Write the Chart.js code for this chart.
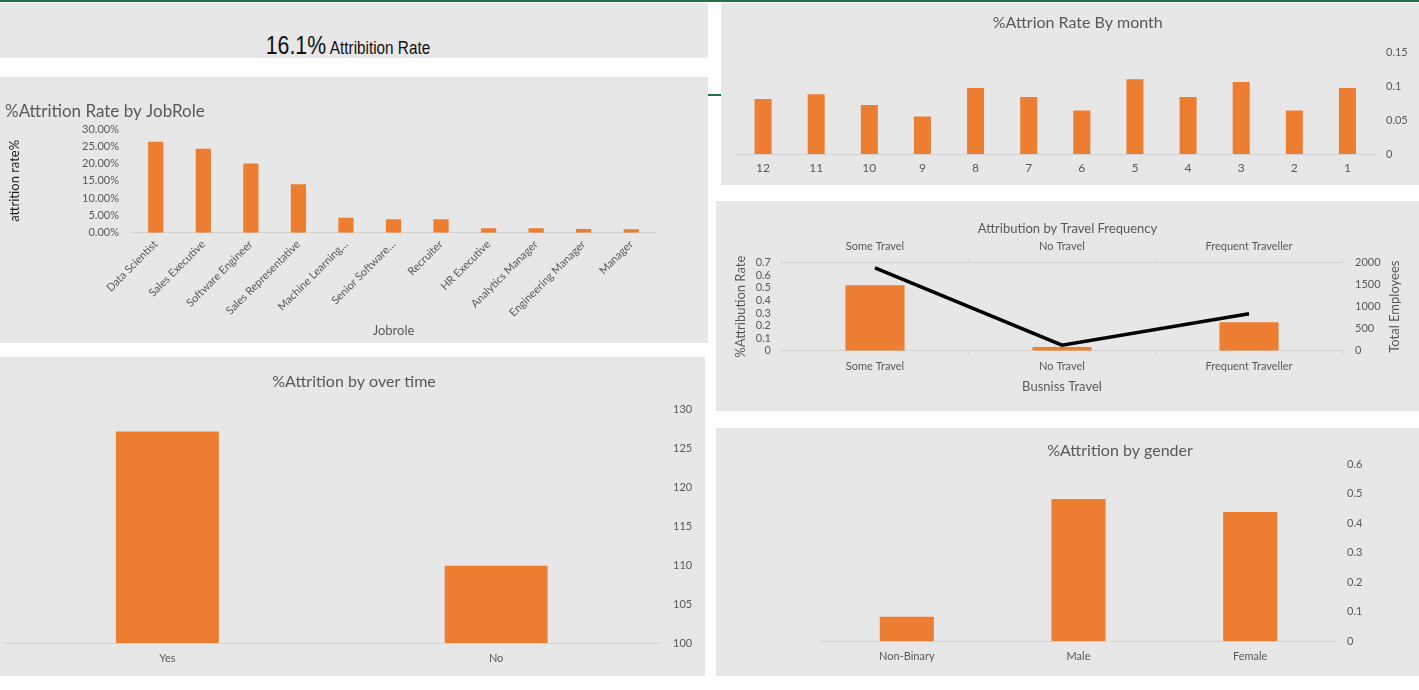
<!DOCTYPE html>
<html>
<head>
<meta charset="utf-8">
<title>Attrition Dashboard</title>
<script src="https://cdn.jsdelivr.net/npm/chart.js@4.4.1/dist/chart.umd.min.js"></script>
<style>
  html, body { margin: 0; padding: 0; background: #ffffff; }
  body { width: 1419px; height: 690px; position: relative; overflow: hidden; font-family: Lato, sans-serif; }
  .panel { position: absolute; background: #e7e7e7; box-sizing: border-box; }
  .topline { position: absolute; left: 0; top: 0; width: 1419px; height: 2px; background: #217346; }
  .tick-mark { position: absolute; left: 708px; top: 94px; width: 14px; height: 2px; background: #217346; }
  .kpi { color: #111; font-family: "Liberation Sans Narrow", "Arial Narrow", "Liberation Sans", sans-serif; }
  .kpi .line { position: absolute; left: 0; right: 12px; top: 28px; text-align: center; transform: scaleX(0.85); }
  .kpi .big { font-size: 25px; }
  .kpi .small { font-size: 18px; }
</style>
</head>
<body>
<div class="topline"></div>
<div class="tick-mark"></div>

<div class="panel kpi" style="left:0;top:3px;width:708px;height:55px;">
  <div class="line"><span class="big">16.1%</span> <span class="small">Attribition Rate</span></div>
</div>

<div class="panel" style="left:0;top:77px;width:708px;height:266px;"><canvas id="jobRoleChart"></canvas></div>
<div class="panel" style="left:0;top:357px;width:705px;height:319px;"><canvas id="overtimeChart"></canvas></div>
<div class="panel" style="left:721px;top:3px;width:698px;height:182px;"><canvas id="monthChart"></canvas></div>
<div class="panel" style="left:716px;top:201px;width:703px;height:210px;"><canvas id="travelChart"></canvas></div>
<div class="panel" style="left:716px;top:428px;width:703px;height:248px;"><canvas id="genderChart"></canvas></div>

<script>
const jobRoles = ['Data Scientist', 'Sales Executive', 'Software Engineer', 'Sales Representative', 'Machine Learning…', 'Senior Software…', 'Recruiter', 'HR Executive', 'Analytics Manager', 'Engineering Manager', 'Manager'];
const jobRoleRates = [0.263, 0.243, 0.200, 0.140, 0.043, 0.039, 0.039, 0.013, 0.013, 0.011, 0.010];

const months = ['12', '11', '10', '9', '8', '7', '6', '5', '4', '3', '2', '1'];
const monthRates = [0.081, 0.088, 0.072, 0.055, 0.097, 0.084, 0.064, 0.110, 0.084, 0.106, 0.064, 0.097];

const travelTypes = ['Some Travel', 'No Travel', 'Frequent Traveller'];
const travelRates = [0.52, 0.03, 0.226];
const travelEmployees = [1880, 125, 840];

const overtimeLabels = ['Yes', 'No'];
const overtimeValues = [127.1, 109.9];

const genders = ['Non-Binary', 'Male', 'Female'];
const genderRates = [0.082, 0.481, 0.437];

const ORANGE = '#ED7D31';
const AXIS = '#d4d4d4';
const TEXT = '#595959';

Chart.defaults.font.family = 'Lato, sans-serif';
Chart.defaults.color = TEXT;
Chart.defaults.animation = false;
Chart.defaults.responsive = true;
Chart.defaults.maintainAspectRatio = false;
Chart.defaults.plugins.legend.display = false;
Chart.defaults.plugins.tooltip.enabled = false;

// force axis box sizes so the plot areas land where the reference has them
function fixWidth(w) { return function (scale) { scale.width = w; }; }
function fixHeight(h) { return function (scale) { scale.height = h; }; }

function chartTitle(text, size, top, bottom, align) {
  return {
    display: true,
    text: text,
    color: TEXT,
    align: align || 'center',
    font: { size: size, weight: 'normal' },
    padding: { top: top, bottom: bottom }
  };
}

// Excel writes the secondary axis title bottom-to-top, Chart.js does the opposite
const rightAxisTitle = {
  id: 'rightAxisTitle',
  afterDraw(chart, args, opts) {
    const scale = chart.scales[opts.scaleId];
    const ctx = chart.ctx;
    ctx.save();
    ctx.translate(scale.right - opts.offset, (chart.chartArea.top + chart.chartArea.bottom) / 2);
    ctx.rotate(-Math.PI / 2);
    ctx.font = '13px Lato, sans-serif';
    ctx.fillStyle = TEXT;
    ctx.textAlign = 'center';
    ctx.textBaseline = 'middle';
    ctx.fillText(opts.text, 0, 0);
    ctx.restore();
  }
};

// %Attrition Rate by JobRole
new Chart(document.getElementById('jobRoleChart'), {
  type: 'bar',
  data: {
    labels: jobRoles,
    datasets: [{ data: jobRoleRates, backgroundColor: ORANGE, categoryPercentage: 1, barPercentage: 0.32 }]
  },
  options: {
    layout: { padding: { left: 5, right: 53, top: 0, bottom: 0 } },
    plugins: { title: chartTitle('%Attrition Rate by JobRole', 17, 24.5, 7.1, 'start') },
    scales: {
      x: {
        grid: { display: false, drawTicks: false },
        border: { display: true, color: AXIS },
        ticks: { font: { size: 11 }, maxRotation: 45, minRotation: 45, padding: 5, autoSkip: false },
        title: { display: true, text: 'Jobrole', font: { size: 13 }, color: TEXT, padding: { top: 0, bottom: 4.2 } },
        afterFit: fixHeight(110.3)
      },
      y: {
        min: 0, max: 0.3,
        grid: { display: false, drawTicks: false },
        border: { display: false },
        ticks: { stepSize: 0.05, font: { size: 11 }, padding: 13, autoSkip: false, callback: v => (v * 100).toFixed(2) + '%' },
        title: { display: true, text: 'attrition rate%', font: { size: 13 }, color: '#1a1a1a', padding: { top: 2.2, bottom: 0 } },
        afterFit: fixWidth(127)
      }
    }
  }
});

// %Attrion Rate By month
new Chart(document.getElementById('monthChart'), {
  type: 'bar',
  data: {
    labels: months,
    datasets: [{ data: monthRates, backgroundColor: ORANGE, categoryPercentage: 1, barPercentage: 0.32 }]
  },
  options: {
    layout: { padding: { left: 15.5, right: 0, top: 0, bottom: 0 } },
    plugins: { title: chartTitle('%Attrion Rate By month', 16, 10.4, 19.4) },
    scales: {
      x: {
        grid: { display: false, drawTicks: false },
        border: { display: true, color: AXIS },
        ticks: { font: { size: 12 }, padding: 6.8 },
        afterFit: fixHeight(31)
      },
      y: {
        position: 'right',
        min: 0, max: 0.15,
        grid: { display: false, drawTicks: false },
        border: { display: false },
        ticks: { stepSize: 0.05, font: { size: 11 }, padding: 12, autoSkip: false, callback: v => String(Math.round(v * 100) / 100) },
        afterFit: fixWidth(45)
      }
    }
  }
});

// Attribution by Travel Frequency
new Chart(document.getElementById('travelChart'), {
  type: 'bar',
  data: {
    labels: travelTypes,
    datasets: [
      { type: 'line', data: travelEmployees, xAxisID: 'x2', yAxisID: 'y2', borderColor: '#000000', borderWidth: 3.5, pointRadius: 0, order: 0 },
      { type: 'bar', data: travelRates, xAxisID: 'x', yAxisID: 'y', backgroundColor: ORANGE, grouped: false, categoryPercentage: 1, barPercentage: 0.316, order: 1 }
    ]
  },
  plugins: [rightAxisTitle],
  options: {
    layout: { padding: 0 },
    plugins: {
      title: chartTitle('Attribution by Travel Frequency', 13, 20.2, 1),
      rightAxisTitle: { scaleId: 'y2', text: 'Total Employees', offset: 24 }
    },
    scales: {
      x: {
        type: 'category',
        offset: true,
        grid: { display: true, drawOnChartArea: false, drawTicks: true, tickLength: 4, color: AXIS, offset: true },
        border: { display: true, color: AXIS },
        ticks: { font: { size: 11 }, padding: 4.7 },
        title: { display: true, text: 'Busniss Travel', font: { size: 13 }, color: TEXT, padding: { top: 0, bottom: 16.2 } },
        afterFit: fixHeight(60.3)
      },
      x2: {
        type: 'category',
        position: 'top',
        offset: true,
        grid: { display: true, drawOnChartArea: false, drawTicks: true, tickLength: 4, color: AXIS, offset: true },
        border: { display: true, color: AXIS },
        ticks: { font: { size: 11 }, padding: 6 },
        afterFit: fixHeight(24.9)
      },
      y: {
        position: 'left',
        min: 0, max: 0.7,
        grid: { display: false, drawTicks: false },
        border: { display: false },
        ticks: { stepSize: 0.1, font: { size: 11 }, padding: 10.5, autoSkip: false, callback: v => String(Math.round(v * 10) / 10) },
        title: { display: true, text: '%Attribution Rate', font: { size: 13 }, color: TEXT, padding: { top: 17.2, bottom: 0 } },
        afterFit: fixWidth(65.5)
      },
      y2: {
        position: 'right',
        min: 0, max: 2000,
        grid: { display: false, drawTicks: false },
        border: { display: false },
        ticks: { stepSize: 500, font: { size: 11 }, padding: 12.5, autoSkip: false, callback: v => String(v) },
        afterFit: fixWidth(76.5)
      }
    }
  }
});

// %Attrition by over time
new Chart(document.getElementById('overtimeChart'), {
  type: 'bar',
  data: {
    labels: overtimeLabels,
    datasets: [{ data: overtimeValues, backgroundColor: ORANGE, categoryPercentage: 1, barPercentage: 0.313 }]
  },
  options: {
    layout: { padding: { left: 3, right: 0, top: 0, bottom: 0 } },
    plugins: { title: chartTitle('%Attrition by over time', 16, 15.4, 17.4) },
    scales: {
      x: {
        grid: { display: false, drawTicks: false },
        border: { display: true, color: AXIS },
        ticks: { font: { size: 11 }, padding: 8.4 },
        afterFit: fixHeight(33)
      },
      y: {
        position: 'right',
        min: 100, max: 130,
        grid: { display: false, drawTicks: false },
        border: { display: false },
        ticks: { stepSize: 5, font: { size: 11 }, padding: 12.5, autoSkip: false },
        afterFit: fixWidth(44.5)
      }
    }
  }
});

// %Attrition by gender
new Chart(document.getElementById('genderChart'), {
  type: 'bar',
  data: {
    labels: genders,
    datasets: [{ data: genderRates, backgroundColor: ORANGE, categoryPercentage: 1, barPercentage: 0.315 }]
  },
  options: {
    layout: { padding: { left: 105, right: 0, top: 0, bottom: 0 } },
    plugins: { title: chartTitle('%Attrition by gender', 16, 13.4, 3.4) },
    scales: {
      x: {
        grid: { display: false, drawTicks: false },
        border: { display: true, color: AXIS },
        ticks: { font: { size: 11 }, padding: 8.4 },
        afterFit: fixHeight(35)
      },
      y: {
        position: 'right',
        min: 0, max: 0.6,
        grid: { display: false, drawTicks: false },
        border: { display: false },
        ticks: { stepSize: 0.1, font: { size: 11 }, padding: 11, autoSkip: false, callback: v => String(Math.round(v * 10) / 10) },
        afterFit: fixWidth(83)
      }
    }
  }
});
</script>
</body>
</html>
